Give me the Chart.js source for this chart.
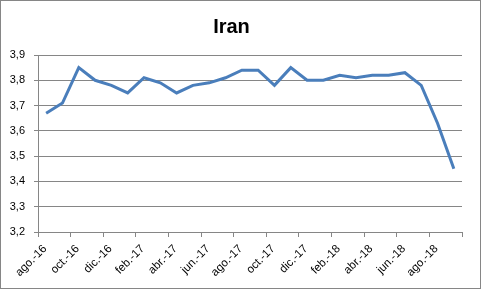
<!DOCTYPE html>
<html>
<head>
<meta charset="utf-8">
<script src="https://cdn.jsdelivr.net/npm/chart.js@4"></script>
<style>
  body { margin: 0; background: #fff; }
  #box { width: 481px; height: 289px; border: 1px solid #868686; box-sizing: border-box; }
  canvas { display: block; }
</style>
</head>
<body>
<div id="box"><canvas id="chart" width="479" height="287"></canvas></div>
<script>
// 월별 라벨 (ago.-16 ~ sep.-18)
const months = ['ago.-16', 'sep.-16', 'oct.-16', 'nov.-16', 'dic.-16', 'ene.-17', 'feb.-17', 'mar.-17',
    'abr.-17', 'may.-17', 'jun.-17', 'jul.-17', 'ago.-17', 'sep.-17', 'oct.-17', 'nov.-17', 'dic.-17',
    'ene.-18', 'feb.-18', 'mar.-18', 'abr.-18', 'may.-18', 'jun.-18', 'jul.-18', 'ago.-18', 'sep.-18'];

// 시리즈 값
const iranValues = [3.67, 3.71, 3.85, 3.80, 3.78, 3.75, 3.81, 3.79, 3.75, 3.78, 3.79, 3.81, 3.84,
    3.84, 3.78, 3.85, 3.80, 3.80, 3.82, 3.81, 3.82, 3.82, 3.83, 3.78, 3.63, 3.45];

const yMin = 3.2;
const yMax = 3.9;

// 각 달은 칸의 가운데에 찍힘
var points = iranValues.map(function (v, i) {
    return {x: i + 0.5, y: v};
});

var ctx = document.getElementById('chart').getContext('2d');
var chart = new Chart(ctx, {
    type: 'line',
    data: {
        datasets: [{
            label: 'Iran',
            data: points,
            borderColor: '#4a7ebb',
            borderWidth: 3,
            pointRadius: 0,
            tension: 0
        }]
    },
    options: {
        animation: false,
        responsive: false,
        layout: {padding: {left: 0, right: 18, top: 0, bottom: 0}},
        plugins: {
            legend: {display: false},
            tooltip: {enabled: false},
            title: {
                display: true,
                text: 'Iran',
                color: '#000',
                font: {family: 'Liberation Sans', size: 20, weight: 'bold'},
                padding: {top: 14, bottom: 16}
            }
        },
        scales: {
            x: {
                type: 'linear',
                min: 0,
                max: months.length,
                grid: {drawOnChartArea: false, color: '#868686', tickLength: 5},
                border: {color: '#868686'},
                ticks: {
                    stepSize: 2,
                    autoSkip: false,
                    maxRotation: 45,
                    minRotation: 45,
                    labelOffset: 7,
                    padding: 5,
                    color: '#000',
                    font: {family: 'Liberation Sans', size: 11.5},
                    callback: function (value) {
                        return months[value] || '';
                    }
                },
                afterFit: function (scale) { scale.height = 56; }
            },
            y: {
                min: yMin,
                max: yMax,
                grid: {color: '#868686', tickLength: 4},
                border: {color: '#868686'},
                ticks: {
                    stepSize: 0.1,
                    padding: 9,
                    color: '#000',
                    font: {family: 'Liberation Sans', size: 11},
                    callback: function (value) {
                        return value.toFixed(1).replace('.', ',');
                    }
                },
                afterFit: function (scale) { scale.width = 37; }
            }
        }
    }
});
</script>
</body>
</html>
